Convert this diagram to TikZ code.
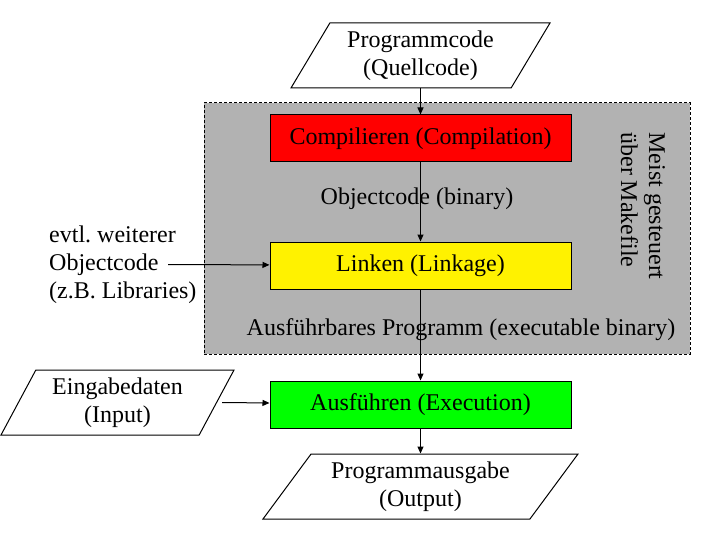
\documentclass[tikz,border=0pt]{standalone}
\usepackage{fontspec}
\setmainfont{Liberation Serif}
\usetikzlibrary{positioning,shapes.geometric,arrows.meta}
\definecolor{makegray}{RGB}{178,178,178}
\frenchspacing

\begin{document}
\begin{tikzpicture}[
            x=1bp, y=-1bp,
            node distance=26bp,
            every node/.style={font=\fontsize{24bp}{28bp}\selectfont},
            proc node/.style={rectangle,draw,line width=1bp,minimum width=301bp,minimum height=47bp,inner sep=0pt},
            io node/.style={trapezium,draw,line width=1bp,trapezium stretches body,minimum height=65bp,align=center,inner sep=0pt},
            make box/.style={draw,fill=makegray,line width=1bp,dash pattern=on 3bp off 2bp,minimum width=486bp,minimum height=251bp},
            every edge/.style={draw,line width=1bp,-{Triangle[length=7bp,width=6bp]}},
        ]
            \useasboundingbox (0,0) rectangle (720,540);

            \node[make box] (make) at (447,228.5) {};
            \node[rotate=-90,align=left] (makenote) at (643,206) {Meist gesteuert\\über Makefile};
            \node (objlabel) at (417,199) {Objectcode (binary)};
            \node (exelabel) at (461,330) {Ausführbares Programm (executable binary)};

            \node[proc node, fill=red] (cmp) at (420.5,138.5) {Compilieren (Compilation)};
            \node[proc node, fill=yellow, below=79bp of cmp] (lnk) {Linken (Linkage)};
            \node[proc node, fill=green, below=91bp of lnk] (grn) {Ausführen (Execution)};

            \node[io node, trapezium left angle=52, trapezium right angle=128, minimum width=259bp, above=of cmp] (src) {Programmcode\\(Quellcode)};
            \node[io node, trapezium left angle=55, trapezium right angle=125, minimum width=233bp] (in) at (117.5,402.5) {Eingabedaten\\(Input)};
            \node[io node, trapezium left angle=46, trapezium right angle=134, minimum width=315bp, below=25bp of grn] (out) {Programmausgabe\\(Output)};

            \node[align=left, anchor=west, inner sep=0pt] (libs) at (49,265) {evtl. weiterer\\Objectcode\\(z.B. Libraries)};
            \coordinate (libsout) at (168,264.5);

            \path (src.south -| cmp.north) edge (cmp.north);
            \path (cmp) edge (lnk);
            \path (libsout) edge (lnk);
            \path (lnk) edge (grn);
            \path ([xshift=5bp]in.east) edge (grn);
            \path (grn.south) edge (grn.south |- out.north);
        \end{tikzpicture}
\end{document}
